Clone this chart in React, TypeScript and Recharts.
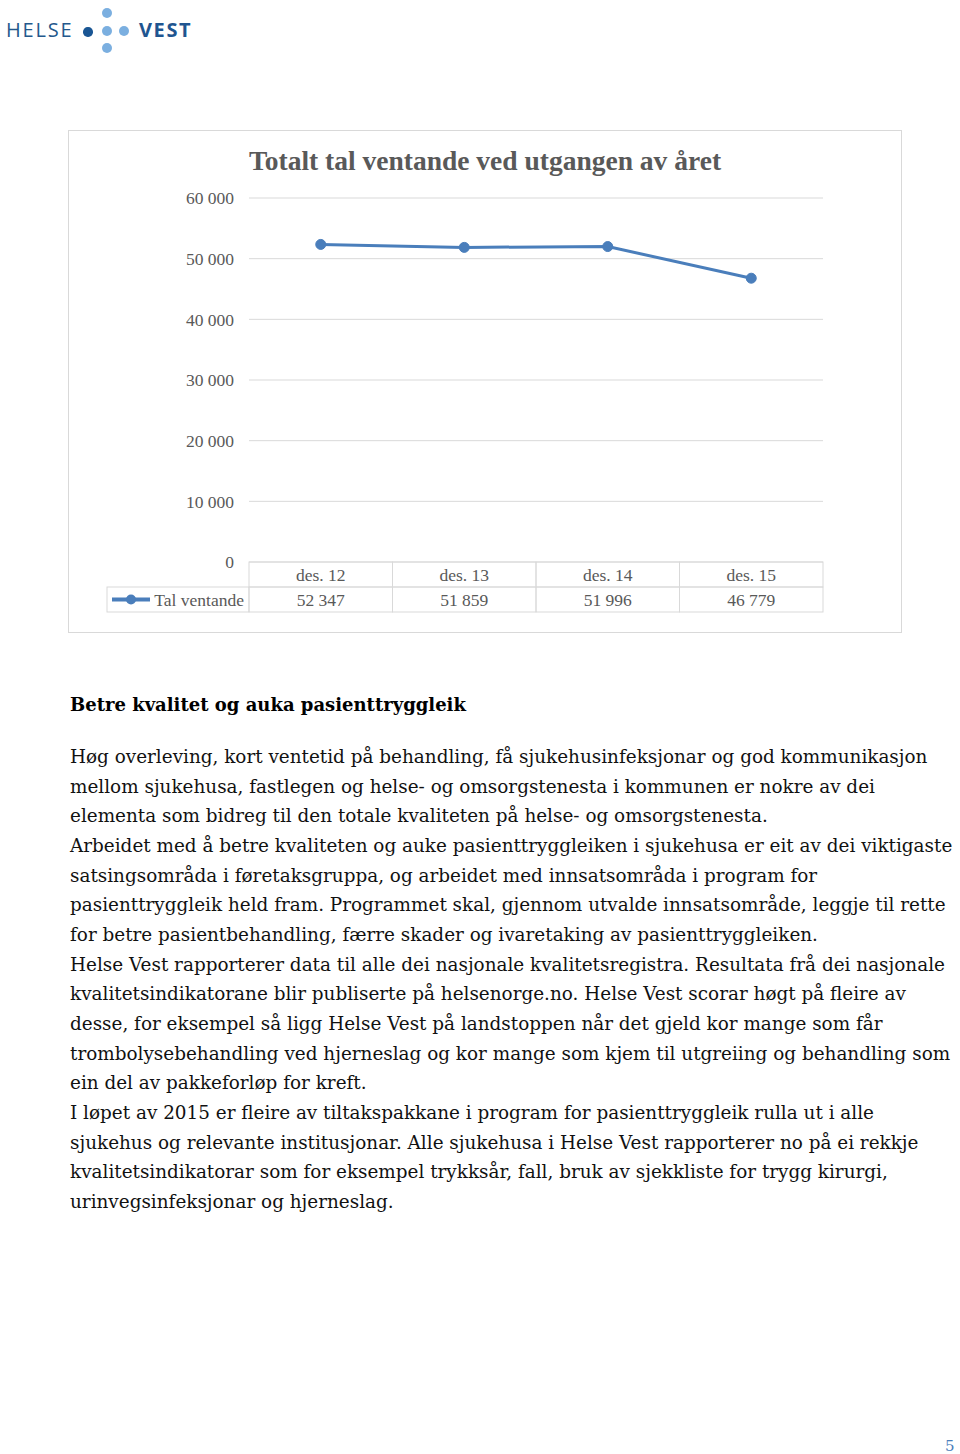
import { CartesianGrid, Line, LineChart, XAxis, YAxis } from 'recharts';

// chart data
const categories = ['des. 12', 'des. 13', 'des. 14', 'des. 15'];
const talVentande = [52347, 51859, 51996, 46779];
const yTicks = [0, 10000, 20000, 30000, 40000, 50000, 60000];
const seriesName = 'Tal ventande';
const chartTitle = 'Totalt tal ventande ved utgangen av året';

const heading = 'Betre kvalitet og auka pasienttryggleik';
const bodyLines = [
  'Høg overleving, kort ventetid på behandling, få sjukehusinfeksjonar og god kommunikasjon',
  'mellom sjukehusa, fastlegen og helse- og omsorgstenesta i kommunen er nokre av dei',
  'elementa som bidreg til den totale kvaliteten på helse- og omsorgstenesta.',
  'Arbeidet med å betre kvaliteten og auke pasienttryggleiken i sjukehusa er eit av dei viktigaste',
  'satsingsområda i føretaksgruppa, og arbeidet med innsatsområda i program for',
  'pasienttryggleik held fram. Programmet skal, gjennom utvalde innsatsområde, leggje til rette',
  'for betre pasientbehandling, færre skader og ivaretaking av pasienttryggleiken.',
  'Helse Vest rapporterer data til alle dei nasjonale kvalitetsregistra. Resultata frå dei nasjonale',
  'kvalitetsindikatorane blir publiserte på helsenorge.no. Helse Vest scorar høgt på fleire av',
  'desse, for eksempel så ligg Helse Vest på landstoppen når det gjeld kor mange som får',
  'trombolysebehandling ved hjerneslag og kor mange som kjem til utgreiing og behandling som',
  'ein del av pakkeforløp for kreft.',
  'I løpet av 2015 er fleire av tiltakspakkane i program for pasienttryggleik rulla ut i alle',
  'sjukehus og relevante institusjonar. Alle sjukehusa i Helse Vest rapporterer no på ei rekkje',
  'kvalitetsindikatorar som for eksempel trykksår, fall, bruk av sjekkliste for trygg kirurgi,',
  'urinvegsinfeksjonar og hjerneslag.',
];

const chartData = categories.map((c, i) => ({ name: c, value: talVentande[i] }));

// layout
const CHART_W = 832;
const CHART_H = 501;
const Y_W = 180;
const X_H = 70;
const MARGIN = { top: 67, right: 78, left: 0, bottom: 0 };
const PLOT_L = Y_W;
const PLOT_R = CHART_W - MARGIN.right;
const PLOT_B = CHART_H - X_H;
const COL_W = (PLOT_R - PLOT_L) / categories.length;
const ROW_H = 25;

const LINE_COLOR = '#4a7ebb';
const GRID = '#d9d9d9';
const TEXT = '#595959';
const CHART_FONT = '"Liberation Serif", serif';
const BODY_FONT = '"DejaVu Serif", serif';
const TICK_SIZE = 17.5;

const fmt = (n: number) => String(n).replace(/\B(?=(\d{3})+(?!\d))/g, ' ');

// the data table under the plot, drawn one column per x tick
function TableTick({ x, payload }: any) {
  const i = categories.indexOf(payload.value);
  const left = x - COL_W / 2;
  const top = PLOT_B;
  const textProps = {
    fill: TEXT,
    fontSize: TICK_SIZE,
    fontFamily: CHART_FONT,
    dominantBaseline: 'central' as const,
  };
  return (
    <g>
      <rect x={left} y={top} width={COL_W} height={ROW_H} fill="none" stroke={GRID} />
      <rect x={left} y={top + ROW_H} width={COL_W} height={ROW_H} fill="none" stroke={GRID} />
      <text x={x} y={top + ROW_H / 2} textAnchor="middle" {...textProps}>
        {payload.value}
      </text>
      <text x={x} y={top + ROW_H * 1.5} textAnchor="middle" {...textProps}>
        {fmt(talVentande[i])}
      </text>
      {i === 0 && (
        <g>
          <rect x={38} y={top + ROW_H} width={PLOT_L - 38} height={ROW_H} fill="none" stroke={GRID} />
          <line x1={43} x2={81} y1={top + ROW_H * 1.5} y2={top + ROW_H * 1.5} stroke={LINE_COLOR} strokeWidth={4} />
          <circle cx={62} cy={top + ROW_H * 1.5} r={5} fill={LINE_COLOR} />
          <text x={PLOT_L - 5} y={top + ROW_H * 1.5} textAnchor="end" {...textProps}>
            {seriesName}
          </text>
        </g>
      )}
    </g>
  );
}

function Logo() {
  const dot = (cx: number, cy: number, r: number, color: string) => (
    <div
      style={{
        position: 'absolute',
        left: cx - r,
        top: cy - r,
        width: r * 2,
        height: r * 2,
        borderRadius: '50%',
        background: color,
      }}
    />
  );
  return (
    <>
      <div
        style={{
          position: 'absolute',
          left: 6,
          top: 16,
          fontFamily: '"Open Sans", sans-serif',
          fontSize: 20,
          lineHeight: '28px',
          color: '#24588c',
          letterSpacing: 1.8,
        }}
      >
        HELSE
      </div>
      {dot(88, 32, 4.7, '#1a5694')}
      {dot(107, 13, 5.2, '#7bafe0')}
      {dot(107, 31, 5.2, '#7bafe0')}
      {dot(124, 31, 5.2, '#7bafe0')}
      {dot(107, 48, 5.2, '#7bafe0')}
      <div
        style={{
          position: 'absolute',
          left: 139,
          top: 16,
          fontFamily: '"Open Sans", sans-serif',
          fontWeight: 700,
          fontSize: 20,
          lineHeight: '28px',
          color: '#1f5590',
          letterSpacing: 1.6,
        }}
      >
        VEST
      </div>
    </>
  );
}

export default function App() {
  return (
    <div
      style={{
        position: 'absolute',
        left: 0,
        top: 0,
        width: 960,
        height: 1454,
        background: '#fff',
        overflow: 'hidden',
      }}
    >
      <Logo />

      <div
        style={{
          position: 'absolute',
          left: 68,
          top: 130,
          width: CHART_W,
          height: CHART_H,
          border: `1px solid ${GRID}`,
        }}
      >
        <div
          style={{
            position: 'absolute',
            left: 0,
            width: CHART_W,
            top: 14,
            textAlign: 'center',
            fontFamily: CHART_FONT,
            fontWeight: 700,
            fontSize: 27.5,
            lineHeight: '32px',
            color: TEXT,
          }}
        >
          {chartTitle}
        </div>
        <LineChart width={CHART_W} height={CHART_H} data={chartData} margin={MARGIN}>
          <CartesianGrid vertical={false} stroke={GRID} />
          <XAxis
            dataKey="name"
            height={X_H}
            axisLine={false}
            tickLine={false}
            interval={0}
            padding={{ left: COL_W / 2, right: COL_W / 2 }}
            tick={<TableTick />}
          />
          <YAxis
            width={Y_W}
            domain={[0, 60000]}
            ticks={yTicks}
            axisLine={false}
            tickLine={false}
            tickSize={0}
            tickMargin={15}
            tickFormatter={fmt}
            tick={{ fill: TEXT, fontSize: TICK_SIZE, fontFamily: CHART_FONT }}
          />
          <Line
            dataKey="value"
            name={seriesName}
            stroke={LINE_COLOR}
            strokeWidth={3}
            dot={{ r: 5, fill: LINE_COLOR, stroke: LINE_COLOR, strokeWidth: 1 }}
            isAnimationActive={false}
          />
        </LineChart>
      </div>

      <div
        style={{
          position: 'absolute',
          left: 70,
          top: 691,
          fontFamily: BODY_FONT,
          fontWeight: 700,
          fontSize: 18,
          lineHeight: '28px',
          color: '#000',
          whiteSpace: 'nowrap',
        }}
      >
        {heading}
      </div>

      <div
        style={{
          position: 'absolute',
          left: 70,
          top: 742,
          fontFamily: BODY_FONT,
          fontSize: 18.4,
          lineHeight: '29.67px',
          color: '#111',
          whiteSpace: 'nowrap',
        }}
      >
        {bodyLines.map((l, i) => (
          <div key={i}>{l}</div>
        ))}
      </div>

      <div
        style={{
          position: 'absolute',
          left: 945,
          top: 1437,
          fontFamily: BODY_FONT,
          fontSize: 15,
          lineHeight: '18px',
          color: LINE_COLOR,
        }}
      >
        5
      </div>
    </div>
  );
}
